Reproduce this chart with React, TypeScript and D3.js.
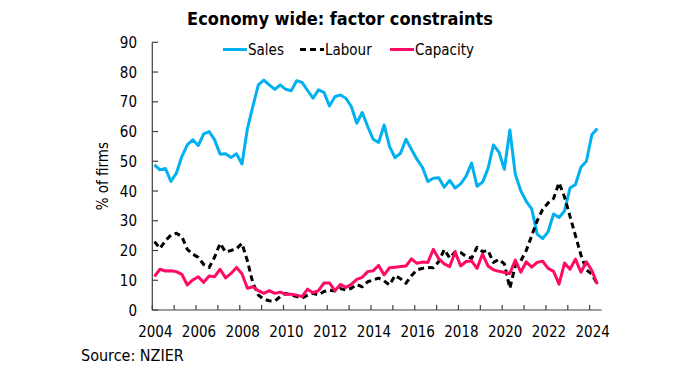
import React from 'react';
import * as d3 from 'd3';

const years = [2004, 2006, 2008, 2010, 2012, 2014, 2016, 2018, 2020, 2022, 2024];
const yTicks = [0, 10, 20, 30, 40, 50, 60, 70, 80, 90];

// quarterly, 2004 Q1 .. 2024 Q2
const sales = [
  48.8, 47.1, 47.6, 43.2, 46.0, 51.6, 55.5, 57.2, 55.3, 59.2,
  60.0, 57.2, 52.4, 52.5, 51.3, 52.5, 49.1, 61.0, 68.5, 75.7,
  77.3, 75.7, 74.2, 75.7, 74.2, 73.7, 77.1, 76.5, 73.8, 71.2,
  74.0, 73.2, 68.6, 71.7, 72.3, 71.2, 68.4, 62.8, 66.4, 61.7,
  57.4, 56.3, 62.2, 54.9, 51.2, 52.7, 57.4, 54.0, 50.7, 48.0,
  43.2, 44.3, 44.5, 41.3, 43.6, 41.0, 42.4, 45.0, 49.4, 41.6,
  43.0, 47.5, 55.5, 53.1, 47.3, 60.5, 45.6, 40.1, 36.5, 34.0,
  25.5, 24.0, 26.3, 32.3, 31.1, 33.3, 41.0, 42.2, 48.0, 50.0,
  58.9, 61.0,
];

const labour = [
  23.0, 20.7, 23.3, 25.2, 25.8, 24.7, 20.4, 18.8, 17.7, 15.3,
  14.3, 17.8, 22.4, 19.5, 20.0, 20.6, 22.4, 16.5, 9.0, 5.0,
  3.6, 3.1, 3.0, 4.5, 5.6, 5.0, 4.5, 4.0, 5.0, 5.6,
  5.1, 6.2, 6.7, 6.4, 7.2, 6.7, 7.3, 8.6, 7.8, 9.5,
  10.1, 10.7, 9.8, 8.4, 11.6, 10.5, 9.0, 11.5, 13.5, 14.0,
  14.3, 14.2, 16.3, 20.3, 17.5, 19.6, 19.3, 18.0, 17.4, 21.1,
  19.6, 20.0, 16.0, 17.0, 15.5, 7.3, 15.0, 16.5, 20.0, 25.0,
  30.0, 33.8, 36.0, 37.5, 42.8, 38.0, 31.5, 25.0, 18.5, 13.5,
  12.0, 8.7,
];

const capacity = [
  11.3, 13.7, 13.1, 13.2, 12.9, 12.0, 8.4, 10.1, 11.2, 9.3,
  11.4, 11.2, 13.7, 10.8, 12.3, 14.3, 12.2, 7.3, 7.8, 6.5,
  5.6, 6.5, 5.6, 6.0, 5.3, 5.3, 5.0, 4.5, 7.0, 5.8,
  6.5, 9.1, 9.1, 6.5, 8.6, 7.6, 8.6, 10.3, 11.0, 12.9,
  13.2, 15.0, 11.8, 14.2, 14.4, 14.6, 14.8, 17.2, 15.7, 16.1,
  16.0, 20.4, 17.2, 15.5, 14.6, 19.5, 14.8, 16.3, 16.5, 14.0,
  18.8, 14.8, 13.5, 13.0, 12.6, 12.3, 16.8, 12.7, 16.2, 14.4,
  16.0, 16.4, 14.0, 13.0, 8.7, 15.8, 13.7, 17.1, 12.7, 16.2,
  13.3, 8.7,
];

const series = [
  { name: 'Sales', values: sales, color: '#00B0F0', dash: null },
  { name: 'Labour', values: labour, color: '#000000', dash: '6,4' },
  { name: 'Capacity', values: capacity, color: '#FF0A64', dash: null },
];

const font = "'DejaVu Sans Condensed', 'DejaVu Sans', sans-serif";

export default function App() {
  const x = d3.scaleLinear().domain([2004, 2024.55]).range([152.3, 601.7]);
  const y = d3.scaleLinear().domain([0, 90]).range([310, 42.3]);
  const t = (i: number) => 2004.1 + i * 0.25;

  const line = d3.line<number>()
    .x((_, i) => x(t(i)))
    .y(d => y(d));

  const allYears = d3.range(2004, 2025);
  const legendItems = [
    { x: 223, label: 'Sales', s: series[0] },
    { x: 300, label: 'Labour', s: series[1] },
    { x: 390, label: 'Capacity', s: series[2] },
  ];

  return (
    <svg width={683} height={391} style={{ position: 'absolute', left: 0, top: 0, background: '#fff' }}
      fontFamily={font}>
      <text x={340} y={25} textAnchor="middle" fontSize={18} fontWeight="bold" fill="#000">
        Economy wide: factor constraints
      </text>

      {legendItems.map(l => (
        <g key={l.label}>
          <line x1={l.x} x2={l.x + 24} y1={49.5} y2={49.5} stroke={l.s.color} strokeWidth={3}
            strokeDasharray={l.s.dash ?? undefined} />
          <text x={l.x + 25} y={55} fontSize={15} fill="#000">{l.label}</text>
        </g>
      ))}

      {/* y axis */}
      <line x1={152.3} x2={152.3} y1={y(90)} y2={y(0)} stroke="#404040" strokeWidth={1.2} />
      {yTicks.map(v => (
        <g key={v}>
          <line x1={152.3} x2={158} y1={y(v)} y2={y(v)} stroke="#404040" strokeWidth={1.2} />
          <text x={137} y={y(v) + 5.5} textAnchor="end" fontSize={15} fill="#000">{v}</text>
        </g>
      ))}

      {/* x axis */}
      <line x1={x(2004)} x2={x(2024.55)} y1={y(0)} y2={y(0)} stroke="#404040" strokeWidth={1.2} />
      {allYears.map(yr => (
        <line key={yr} x1={x(yr)} x2={x(yr)} y1={y(0)} y2={y(0) - 5} stroke="#404040" strokeWidth={1.2} />
      ))}
      {years.map(yr => (
        <text key={yr} x={x(yr) + 3} y={337} textAnchor="middle" fontSize={15} fill="#000">{yr}</text>
      ))}

      <text transform={`translate(108,${(y(0) + y(90)) / 2}) rotate(-90)`} textAnchor="middle"
        fontSize={15} fill="#000">% of firms</text>

      {series.map(s => (
        <path key={s.name} d={line(s.values) ?? ''} fill="none" stroke={s.color} strokeWidth={3}
          strokeDasharray={s.dash ?? undefined} strokeLinejoin="round" />
      ))}

      <text x={81} y={361} fontSize={16} fill="#000">Source: NZIER</text>
    </svg>
  );
}
